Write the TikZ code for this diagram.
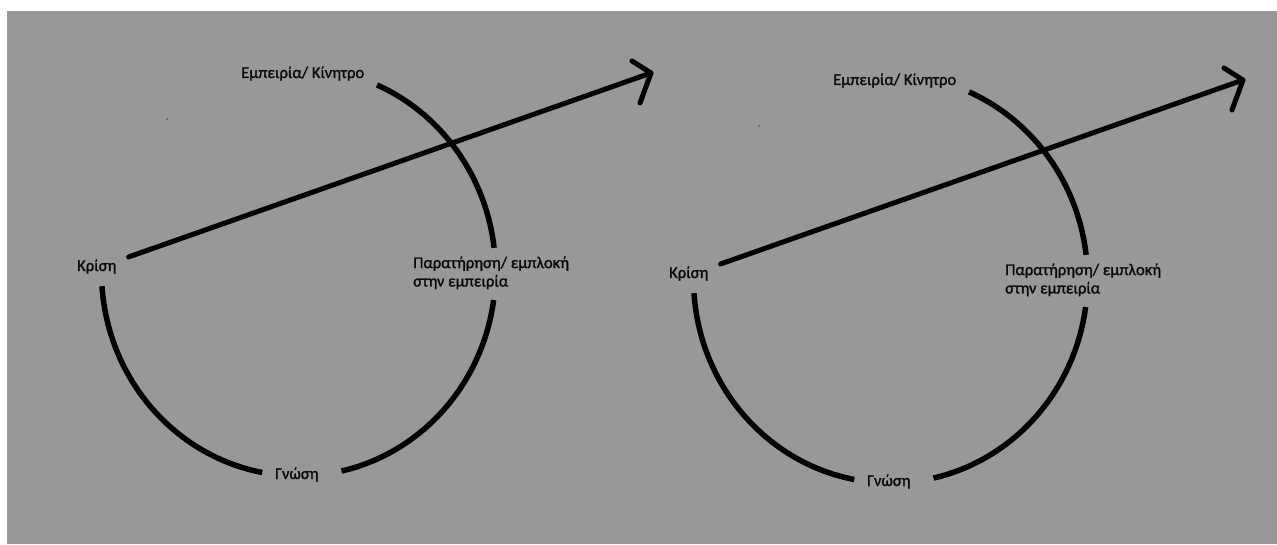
\documentclass[tikz,border=0pt]{standalone}
\usepackage{fontspec}
\newfontfamily\lblfont{Carlito}[FakeBold=1.3]
\usetikzlibrary{calc}
\definecolor{canvas}{RGB}{152,152,152}
\definecolor{ink}{RGB}{0,0,0}
\definecolor{labelink}{RGB}{10,10,14}
\definecolor{speck}{RGB}{70,70,70}

\begin{document}
\begin{tikzpicture}[x=1pt,y=1pt,
  lbl/.style={font=\lblfont\fontsize{16.5}{18.4}\selectfont, text=labelink, inner sep=0pt, anchor=base west},
  ring/.style={line width=5.5pt, line cap=butt, draw=ink},
  shaft/.style={line width=5pt, line cap=round, line join=round, draw=ink},
  pics/learncycle/.style={code={
    % stage labels (the two-line label is placed by its last baseline)
    \node[lbl] (-exp)   at (241,466) {Εμπειρία/ Κίνητρο};
    \node[lbl] (-krisi) at (77,273)  {Κρίση};
    \node[lbl, align=left] (-obs) at (413,257.5) {Παρατήρηση/ εμπλοκή\\στην εμπειρία};
    \node[lbl] (-gnosi) at (275,65)  {Γνώση};
    % the broken cycle (an ellipse, open between Εμπειρία and Κρίση)
    \coordinate (-c) at (298.5,272);
    \draw[ring] ($(-c)+(184:197pt and 204pt)$)
      arc[start angle=184, end angle=259.4, x radius=197, y radius=204];
    \draw[ring] ($(-c)+(282.6:197pt and 204pt)$)
      arc[start angle=282.6, end angle=352.1, x radius=197, y radius=204];
    \draw[ring] ($(-c)+(6.8:197pt and 204pt)$)
      arc[start angle=6.8, end angle=66.5, x radius=197, y radius=204];
    % the arrow leaving the cycle from Κρίση
    \coordinate (-tail) at ($(-krisi.base east)+(12,14)$);
    \coordinate (-tip)   at (651,471);
    \coordinate (-barbu) at (632,483);
    \coordinate (-barbl) at (640,441);
    \draw[shaft] (-tail) -- (-tip);
    \draw[shaft] (-barbu) -- (-tip) -- (-barbl);
    % stray speck
    \fill[speck] (167,425) circle[radius=0.9];
  }}]
  \useasboundingbox (0,0) rectangle (1277,544);
  \fill[white] (0,0) rectangle (1277,544);
  \fill[canvas] (7,0) rectangle (1277,533);

  \pic (first)  at (0,0)    {learncycle};
  \pic (second) at (592,-7) {learncycle};
\end{tikzpicture}
\end{document}
